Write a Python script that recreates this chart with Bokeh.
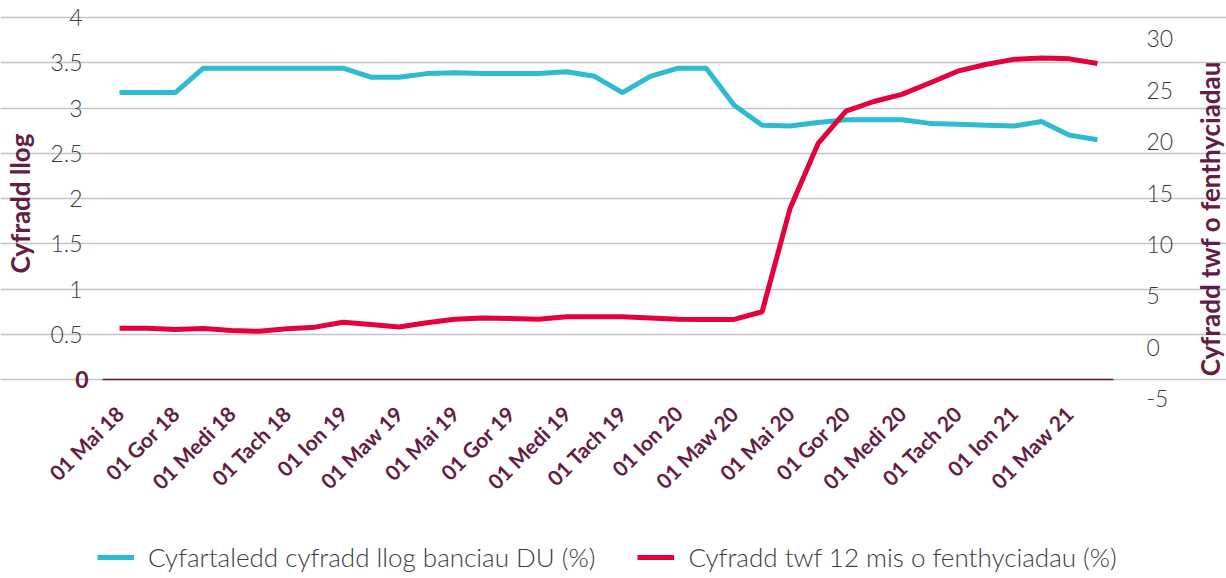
import math
from bokeh.plotting import figure
from bokeh.models import (ColumnDataSource, LinearAxis, Range1d, FixedTicker,
                          Legend, LegendItem, Label, NumeralTickFormatter)
from bokeh.embed import file_html
from bokeh.resources import INLINE

# ---------------- data ----------------
months = ["Mai 18", "Meh 18", "Gor 18", "Awst 18", "Medi 18", "Hyd 18", "Tach 18", "Rhag 18",
          "Ion 19", "Chwe 19", "Maw 19", "Ebr 19", "Mai 19", "Meh 19", "Gor 19", "Awst 19",
          "Medi 19", "Hyd 19", "Tach 19", "Rhag 19", "Ion 20", "Chwe 20", "Maw 20", "Ebr 20",
          "Mai 20", "Meh 20", "Gor 20", "Awst 20", "Medi 20", "Hyd 20", "Tach 20", "Rhag 20",
          "Ion 21", "Chwe 21", "Maw 21", "Ebr 21"]
interest_rate = [3.17, 3.17, 3.17, 3.44, 3.44, 3.44, 3.44, 3.44, 3.44, 3.34, 3.34, 3.38,
                 3.39, 3.38, 3.38, 3.38, 3.40, 3.35, 3.17, 3.35, 3.44, 3.44, 3.03, 2.81,
                 2.80, 2.84, 2.87, 2.87, 2.87, 2.83, 2.82, 2.81, 2.80, 2.85, 2.70, 2.65]
lending_growth = [1.85, 1.85, 1.72, 1.82, 1.62, 1.55, 1.80, 1.95, 2.42, 2.20, 1.97, 2.38,
                  2.72, 2.85, 2.80, 2.72, 2.97, 2.97, 2.97, 2.85, 2.72, 2.70, 2.70, 3.45,
                  13.5, 19.8, 22.96, 23.9, 24.6, 25.7, 26.85, 27.5, 28.0, 28.13, 28.05, 27.6]
left_ticks = [0, 0.5, 1, 1.5, 2, 2.5, 3, 3.5, 4]
right_ticks = [-5, 0, 5, 10, 15, 20, 25, 30]
tick_positions = list(range(0, len(months), 2))
tick_labels = {i: "01 " + months[i] for i in tick_positions}
right_labels = {t: str(t) for t in right_ticks}
series_names = ["Cyfartaledd cyfradd llog banciau DU (%)",
                "Cyfradd twf 12 mis o fenthyciadau (%)"]
left_title = "Cyfradd llog"
right_title = "Cyfradd twf o fenthyciadau"

# ---------------- style / geometry ----------------
BLUE = "#2EBBD1"
RED = "#E4003B"
MAROON = "#651C42"
GREY = "#3C3C3C"
FONT = "Lato"
LIGHT_FONT = "'Lato Light', Lato"
W, H = 1226, 578
PX_MONTH = 27.94          # pixels per month
X0_PX = 119               # pixel of first month
PLOT_L, PLOT_R, PLOT_T, PLOT_B = 102, 1113, 17, 379
PX_LEFT_UNIT = (PLOT_B - PLOT_T) / (left_ticks[-1] - left_ticks[0])
R_ZERO_PX, PX_RIGHT_UNIT = 346.7, 10.28

x_start = -X0_PX / PX_MONTH
x_end = x_start + W / PX_MONTH
x_lo = (PLOT_L - X0_PX) / PX_MONTH
x_hi = (PLOT_R - X0_PX) / PX_MONTH
y_end = PLOT_B / PX_LEFT_UNIT
y_start = -(H - PLOT_B) / PX_LEFT_UNIT
r_end = R_ZERO_PX / PX_RIGHT_UNIT
r_start = -(H - R_ZERO_PX) / PX_RIGHT_UNIT

x_idx = list(range(len(months)))
src = ColumnDataSource(dict(x=x_idx, rate=interest_rate, growth=lending_growth))

p = figure(width=W, height=H, output_backend="svg", toolbar_location=None,
           x_range=Range1d(x_start, x_end), y_range=Range1d(y_start, y_end),
           min_border=0)
p.outline_line_color = None
p.background_fill_color = "white"
p.border_fill_color = "white"
p.extra_y_ranges = {"growth": Range1d(r_start, r_end)}

# grid
p.xgrid.visible = False
p.ygrid.ticker = FixedTicker(ticks=left_ticks)
p.ygrid.bounds = (x_lo, x_hi)
p.ygrid.grid_line_color = "#C3C3CB"
p.ygrid.grid_line_width = 1.5

# x axis
xa = p.xaxis[0]
xa.fixed_location = left_ticks[0]
xa.bounds = (x_lo, x_hi)
xa.ticker = FixedTicker(ticks=tick_positions)
xa.major_label_overrides = tick_labels
xa.major_label_orientation = math.pi / 4
xa.major_label_text_font = FONT
xa.major_label_text_font_style = "bold"
xa.major_label_text_font_size = "21px"
xa.major_label_text_color = MAROON
xa.major_label_standoff = 24
xa.axis_line_color = MAROON
xa.axis_line_width = 1.5
xa.major_tick_line_color = None
xa.minor_tick_line_color = None

# left axis
ya = p.yaxis[0]
ya.fixed_location = x_lo
ya.ticker = FixedTicker(ticks=left_ticks[1:])
ya.formatter = NumeralTickFormatter(format="0.[0]")
ya.major_label_text_font = LIGHT_FONT
ya.major_label_text_font_size = "23px"
ya.major_label_text_color = GREY
ya.major_label_standoff = 14
ya.axis_line_color = None
ya.major_tick_line_color = None
ya.minor_tick_line_color = None

# right axis
ra = LinearAxis(y_range_name="growth", ticker=FixedTicker(ticks=right_ticks),
                fixed_location=x_hi)
ra.major_label_overrides = right_labels
ra.major_label_text_font = LIGHT_FONT
ra.major_label_text_font_size = "23px"
ra.major_label_text_color = GREY
ra.major_label_standoff = 27
ra.axis_line_color = None
ra.major_tick_line_color = None
ra.minor_tick_line_color = None
p.add_layout(ra, "right")

# zero label (bold maroon) and axis titles
p.add_layout(Label(x=x_lo, y=left_ticks[0], text="0", x_offset=-14,
                   text_align="right", text_baseline="middle",
                   text_font=FONT, text_font_style="bold",
                   text_font_size="23px", text_color=MAROON))
p.add_layout(Label(x=x_lo, y=(left_ticks[0] + left_ticks[-1]) / 2, text=left_title,
                   x_offset=-83, y_offset=-5, angle=math.pi / 2,
                   text_align="center", text_baseline="middle",
                   text_font=FONT, text_font_style="bold",
                   text_font_size="26px", text_color=MAROON))
p.add_layout(Label(x=x_hi, y=(right_ticks[0] + right_ticks[-1]) / 2, y_range_name="growth",
                   text=right_title, x_offset=96, angle=math.pi / 2,
                   text_align="center", text_baseline="middle",
                   text_font=FONT, text_font_style="bold",
                   text_font_size="26px", text_color=MAROON))

# lines
r1 = p.line("x", "rate", source=src, line_color=BLUE, line_width=5)
r2 = p.line("x", "growth", source=src, line_color=RED, line_width=5, y_range_name="growth")

legend = Legend(items=[LegendItem(label=series_names[0], renderers=[r1]),
                       LegendItem(label=series_names[1], renderers=[r2])],
                orientation="horizontal", location=(97, 5))
legend.border_line_color = None
legend.background_fill_alpha = 0
legend.padding = 0
legend.margin = 0
legend.spacing = 42
legend.glyph_width = 37
legend.glyph_height = 26
legend.label_height = 26
legend.label_standoff = 14
legend.label_text_font = LIGHT_FONT
legend.label_text_font_size = "26px"
legend.label_text_color = GREY
p.add_layout(legend, "center")

open("out.html", "w").write(file_html(p, INLINE))
